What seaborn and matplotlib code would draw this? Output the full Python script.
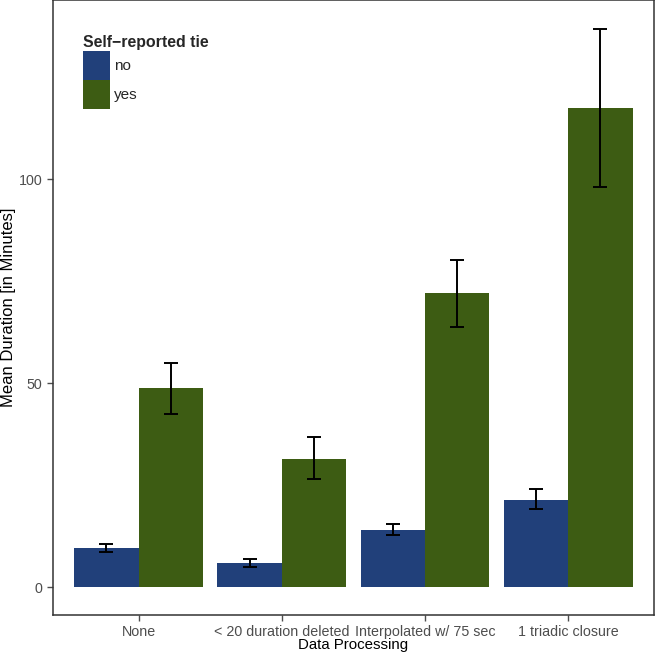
import matplotlib
matplotlib.use('Agg')
import matplotlib.pyplot as plt
import numpy as np
import pandas as pd
import seaborn as sns

# values
categories = ['None', '< 20 duration deleted', 'Interpolated w/ 75 sec', '1 triadic closure']
tie_levels = ['no', 'yes']
mean_no = [9.5, 6.0, 14.0, 21.4]
mean_yes = [48.7, 31.5, 72.0, 117.4]
lower_no = [8.5, 4.9, 12.7, 19.2]
upper_no = [10.5, 6.8, 15.4, 24.0]
lower_yes = [42.5, 26.4, 63.8, 98.0]
upper_yes = [55.0, 36.7, 80.1, 136.8]

palette = {'no': '#21407a', 'yes': '#3d5c13'}

df = pd.DataFrame({
    'Data Processing': categories * 2,
    'tie': ['no'] * 4 + ['yes'] * 4,
    'mean': mean_no + mean_yes,
    'lo': lower_no + lower_yes,
    'hi': upper_no + upper_yes,
})

sns.set_style('white')
plt.rcParams['font.family'] = ['Liberation Sans', 'DejaVu Sans']

fig = plt.figure(figsize=(6.55, 6.54), dpi=100)
ax = fig.add_axes([0.0805, 0.0596, 0.918, 0.94])

sns.barplot(data=df, x='Data Processing', y='mean', hue='tie', hue_order=tie_levels,
            order=categories, palette=palette, width=0.9, errorbar=None,
            saturation=1, linewidth=0, ax=ax)

# error bars at the centre of every bar
for level, cont in zip(tie_levels, ax.containers):
    sub = df[df['tie'] == level].set_index('Data Processing').loc[categories]
    xs = [p.get_x() + p.get_width() / 2 for p in cont.patches]
    ax.errorbar(xs, sub['mean'], yerr=[sub['mean'] - sub['lo'], sub['hi'] - sub['mean']],
                fmt='none', ecolor='black', elinewidth=1.4, capsize=5, capthick=1.4, zorder=5)

ax.set_xlim(-0.6, 3.6)
ax.set_ylim(-6.85, 143.85)
ax.set_yticks([0, 50, 100])
ax.tick_params(axis='both', colors='#4d4d4d', labelsize=10.3, length=4, width=1,
               direction='out', left=True, bottom=True)
for s in ax.spines.values():
    s.set_color('#333333')
    s.set_linewidth(1.1)
ax.set_xlabel('Data Processing', fontsize=10.8, color='black', va='center')
ax.set_ylabel('Mean Duration [in Minutes]', fontsize=12, color='black', va='center')
ax.xaxis.set_label_coords(0.5, -0.049)
ax.yaxis.set_label_coords(-0.074, 0.5)

leg = ax.legend(title='Self\u2212reported tie', loc='upper left', bbox_to_anchor=(0.05, 0.943),
                frameon=False, fontsize=11, handlelength=1.77, handleheight=2.5,
                labelspacing=0.05, handletextpad=0.26, borderpad=0, borderaxespad=0,
                alignment='left', title_fontproperties={'weight': 'bold', 'size': 11.4})

fig.savefig('out.png', dpi=100)
